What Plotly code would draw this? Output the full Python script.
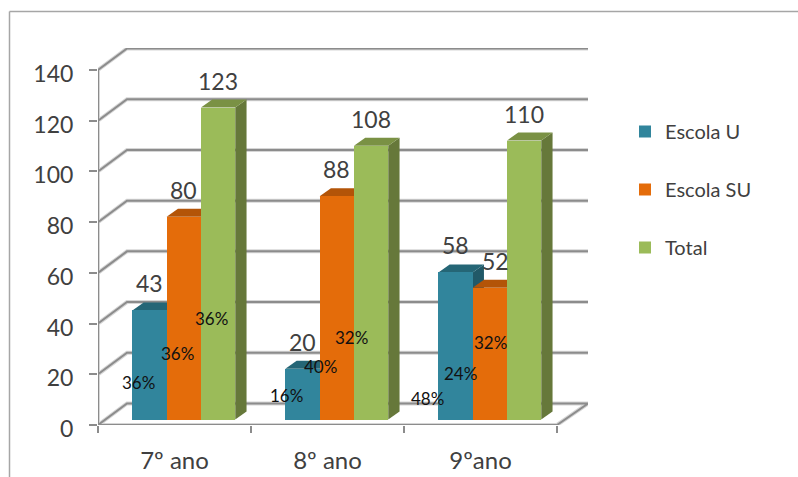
import plotly.graph_objects as go

categories = ["7º ano", "8º ano", "9ºano"]
series_names = ["Escola U", "Escola SU", "Total"]
escola_u = [43, 20, 58]
escola_su = [80, 88, 52]
total = [123, 108, 110]
pct_u = ["36%", "16%", "48%"]
pct_su = ["36%", "40%", "24%"]
pct_total = ["36%", "32%", "32%"]
y_ticks = [0, 20, 40, 60, 80, 100, 120, 140]

series = [escola_u, escola_su, total]
percents = [pct_u, pct_su, pct_total]
front_col = ["#31859C", "#E46C0A", "#9BBB59"]
side_col = ["#215968", "#984807", "#66783A"]
top_col = ["#256676", "#B35408", "#7A9144"]

# geometry of the pseudo-3D box
W, H = 798, 477
L, R, T, B = 98, 588, 48, 425
PX_X = 153.0          # pixels per category
PX_Y = 355 / 140      # pixels per value unit
X_MAX = (R - L) / PX_X
Y_MAX = (B - T) / PX_Y
WALL_DX, WALL_DY = 29 / PX_X, 21.5 / PX_Y
BAR_W = 34.3 / PX_X
BAR_DX, BAR_DY = 11.3 / PX_X, 8 / PX_Y
FLOOR = 5.5 / PX_Y
GROUP_SHIFT = 9.3 / PX_X

GRID = "#8C8C8C"
TEXT = "#404040"
FONT = "Lato"

fig = go.Figure()


def grid_paths():
    xs, ys = [], []
    for v in y_ticks[1:]:
        xs += [0, WALL_DX, X_MAX, None]
        ys += [v, v + WALL_DY, v + WALL_DY, None]
    xs += [0, 0, None, 0, 3, X_MAX, WALL_DX, 0]
    ys += [0, y_ticks[-1], None, 0, 0, WALL_DY, WALL_DY, 0]
    return xs, ys


gx, gy = grid_paths()
for col, wid in (("#D6D6D6", 4), (GRID, 2)):
    fig.add_trace(go.Scatter(x=gx, y=gy, mode="lines", line=dict(color=col, width=wid),
                             showlegend=False, hoverinfo="skip", cliponaxis=False))


def bar_x(cat, s):
    return cat + 0.5 + GROUP_SHIFT + (s - 1) * BAR_W


# depth faces, painted series by series behind the front faces
for c in range(len(categories)):
    for s, vals in enumerate(series):
        x0 = bar_x(c, s) - BAR_W / 2
        x1 = x0 + BAR_W
        top = vals[c] + FLOOR
        fig.add_trace(go.Scatter(
            x=[x1, x1 + BAR_DX, x1 + BAR_DX, x1, x1],
            y=[FLOOR, FLOOR + BAR_DY, top + BAR_DY, top, FLOOR],
            mode="lines", fill="toself", fillcolor=side_col[s], line=dict(width=0),
            showlegend=False, hoverinfo="skip"))
        fig.add_trace(go.Scatter(
            x=[x0, x0 + BAR_DX, x1 + BAR_DX, x1, x0],
            y=[top, top + BAR_DY, top + BAR_DY, top, top],
            mode="lines", fill="toself", fillcolor=top_col[s], line=dict(width=0),
            showlegend=False, hoverinfo="skip"))

# front faces
for s, vals in enumerate(series):
    fig.add_trace(go.Bar(
        x=[bar_x(c, s) for c in range(len(categories))], y=vals, base=FLOOR,
        width=BAR_W, name=series_names[s], marker=dict(color=front_col[s], line=dict(width=0)),
        xaxis="x2", yaxis="y2", legendgroup=series_names[s]))

# value labels above the bars
value_dx = [[0, 0, 0], [0, 0, 6], [0, 0, 0]]
anns = []
for s, vals in enumerate(series):
    for c, v in enumerate(vals):
        anns.append(dict(x=bar_x(c, s), y=v + FLOOR, xref="x", yref="y", text=str(v),
                         showarrow=False, xanchor="center", yanchor="middle",
                         xshift=value_dx[s][c], yshift=27,
                         font=dict(family=FONT, size=23, color=TEXT)))

# percentage labels, placed from the foot of each bar
pct_dx = [[-11.5, -16, -27.7], [-6.5, -16, -29.7], [-7, -19.5, -33.8]]
pct_dy = [[37.5, 24.5, 21.5], [66.5, 53.5, 46.5], [101.5, 82.5, 77.5]]
for s, labels in enumerate(percents):
    for c, t in enumerate(labels):
        anns.append(dict(x=bar_x(c, s), y=FLOOR, xref="x", yref="y", text=t,
                         showarrow=False, xanchor="center", yanchor="middle",
                         xshift=pct_dx[s][c], yshift=pct_dy[s][c],
                         font=dict(family=FONT, size=17, color="#111111")))

pw, ph = R - L, B - T
frame = dict(color="#A6A6A6", width=1.5)
shapes = [
    dict(type="line", xref="paper", yref="paper", x0=(9.5 - L) / pw, x1=(9.5 - L) / pw,
         y0=(B - 11.5) / ph, y1=(B - H) / ph, line=frame),
    dict(type="line", xref="paper", yref="paper", x0=(9.5 - L) / pw, x1=(W - L) / pw,
         y0=(B - 11.5) / ph, y1=(B - 11.5) / ph, line=frame),
]

fig.update_layout(
    width=W, height=H, autosize=False,
    margin=dict(l=L, r=W - R, t=T, b=H - B, pad=0, autoexpand=False),
    paper_bgcolor="white", plot_bgcolor="white",
    barmode="overlay", bargap=0,
    annotations=anns, shapes=shapes,
    font=dict(family=FONT, color=TEXT),
    legend=dict(x=(625 - L) / pw, y=(B - 112) / ph, xanchor="left", yanchor="top",
                font=dict(family=FONT, size=20, color=TEXT),
                tracegroupgap=29, itemwidth=30, bgcolor="rgba(0,0,0,0)"),
    xaxis=dict(range=[0, X_MAX], showgrid=False, zeroline=False, showline=False,
               tickmode="array", tickvals=[i + 0.5 for i in range(len(categories))],
               ticktext=categories, ticks="outside", ticklen=0,
               ticklabelstandoff=14, tickfont=dict(family=FONT, size=24, color=TEXT),
               minor=dict(tickmode="array", tickvals=list(range(len(categories) + 1)),
                          ticks="outside", ticklen=7, tickwidth=1.5, tickcolor=GRID, showgrid=False)),
    yaxis=dict(range=[0, Y_MAX], showgrid=False, zeroline=False, showline=False,
               tickmode="array", tickvals=y_ticks, ticks="outside", ticklen=8, tickwidth=1.5,
               tickcolor=GRID, ticklabelstandoff=11, ticklabelshift=4,
               tickfont=dict(family=FONT, size=23, color=TEXT)),
    xaxis2=dict(range=[0, X_MAX], overlaying="x", visible=False, fixedrange=True),
    yaxis2=dict(range=[0, Y_MAX], overlaying="y", visible=False, fixedrange=True),
)

fig.write_html("out.html", config={"displayModeBar": False},
               post_script="document.body.style.margin='0';document.body.style.overflow='hidden';")
